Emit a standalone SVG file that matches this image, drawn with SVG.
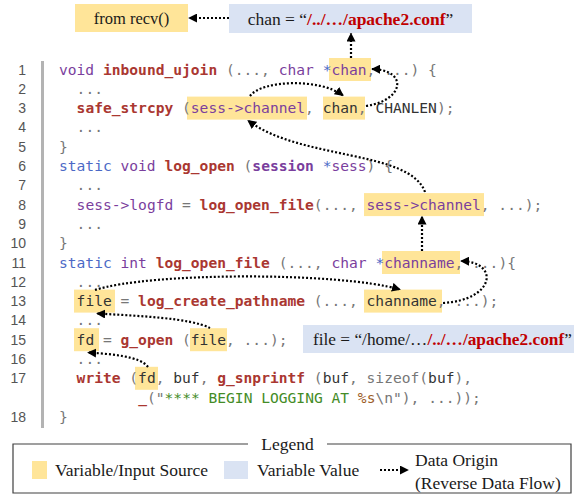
<svg xmlns="http://www.w3.org/2000/svg" width="574" height="496" viewBox="0 0 574 496">
<style>
.code{font-family:"DejaVu Sans Mono","Liberation Mono",monospace;font-size:14.6px;fill:#777777}
.k{fill:#7a3e9d}
.s{fill:#4b69c6}
.f{fill:#aa3731;font-weight:bold}
.v{fill:#7a3e9d}
.vb{fill:#7a3e9d;font-weight:bold}
.d{fill:#333333}
.g{fill:#448c27}
.o{fill:#9c5d27}
.ln{font-family:"Liberation Sans",Arial,sans-serif;font-size:14px;fill:#555555;text-anchor:end}
.hl{fill:#ffe599}
.val{fill:#dae3f3}
.serif{font-family:"Liberation Serif","Times New Roman",serif;fill:#1a1a1a}
.red{fill:#c00000;font-weight:bold}
.conn{fill:none;stroke:#000;stroke-width:2.2;stroke-dasharray:2 2;marker-end:url(#ah)}
</style>
<defs>
<marker id="ah" viewBox="0 0 10 10" refX="9" refY="5" markerUnits="userSpaceOnUse" markerWidth="9" markerHeight="9" orient="auto">
<path d="M0,0 L10,5 L0,10 z" fill="#000"/>
</marker>
</defs>
<rect width="574" height="496" fill="#ffffff"/>

<!-- highlights -->
<g id="highlights">
<rect id="hl-l1-chan" class="hl" x="329" y="58" width="42" height="23"/>
<rect id="hl-l3-sess" class="hl" x="187" y="96.6" width="120" height="23"/>
<rect id="hl-l3-chan" class="hl" x="323" y="96.6" width="42" height="23"/>
<rect id="hl-l8-sess" class="hl" x="364" y="193.1" width="120" height="23"/>
<rect id="hl-l11-channame" class="hl" x="382" y="251" width="78" height="23"/>
<rect id="hl-l13-file" class="hl" x="74" y="289.6" width="41" height="23"/>
<rect id="hl-l13-channame" class="hl" x="364" y="289.6" width="78" height="23"/>
<rect id="hl-l15-fd" class="hl" x="74" y="328.2" width="25" height="23"/>
<rect id="hl-l15-file" class="hl" x="190" y="328.2" width="37" height="23"/>
<rect id="hl-l17-fd" class="hl" x="135" y="366.8" width="23" height="23"/>
</g>

<!-- gutter -->
<g id="gutter">
<rect x="41" y="61" width="3" height="367" fill="#b3b3b3"/>
<text class="ln" x="26" y="74.5">1</text>
<text class="ln" x="26" y="93.8">2</text>
<text class="ln" x="26" y="113.1">3</text>
<text class="ln" x="26" y="132.4">4</text>
<text class="ln" x="26" y="151.7">5</text>
<text class="ln" x="26" y="171">6</text>
<text class="ln" x="26" y="190.3">7</text>
<text class="ln" x="26" y="209.6">8</text>
<text class="ln" x="26" y="228.9">9</text>
<text class="ln" x="26" y="248.2">10</text>
<text class="ln" x="26" y="267.5">11</text>
<text class="ln" x="26" y="286.8">12</text>
<text class="ln" x="26" y="306.1">13</text>
<text class="ln" x="26" y="325.4">14</text>
<text class="ln" x="26" y="344.7">15</text>
<text class="ln" x="26" y="364">16</text>
<text class="ln" x="26" y="383.3">17</text>
<text class="ln" x="26" y="422">18</text>
</g>

<!-- code -->
<g id="code" class="code" xml:space="preserve">
<text x="59" y="74.5"><tspan class="k">void</tspan> <tspan class="f">inbound_ujoin</tspan> (..., <tspan class="k">char</tspan> <tspan class="s">*</tspan><tspan class="v">chan</tspan>, ...) {</text>
<text x="76.6" y="93.8">...</text>
<text x="76.6" y="113.1"><tspan class="f">safe_strcpy</tspan> (<tspan class="v">sess-&gt;channel</tspan>, <tspan class="d">chan</tspan>, <tspan class="d">CHANLEN</tspan>);</text>
<text x="76.6" y="132.4">...</text>
<text x="59" y="151.7">}</text>
<text x="59" y="171"><tspan class="s">static</tspan> <tspan class="k">void</tspan> <tspan class="f">log_open</tspan> (<tspan class="vb">session</tspan> <tspan class="s">*</tspan><tspan class="v">sess</tspan>) {</text>
<text x="76.6" y="190.3">...</text>
<text x="76.6" y="209.6"><tspan class="v">sess-&gt;logfd</tspan> = <tspan class="f">log_open_file</tspan>(..., <tspan class="v">sess-&gt;channel</tspan>, ...);</text>
<text x="76.6" y="228.9">...</text>
<text x="59" y="248.2">}</text>
<text x="59" y="267.5"><tspan class="s">static</tspan> <tspan class="k">int</tspan> <tspan class="f">log_open_file</tspan> (..., <tspan class="k">char</tspan> <tspan class="s">*</tspan><tspan class="v">channame</tspan>, ...){</text>
<text x="76.6" y="286.8">...</text>
<text x="76.6" y="306.1"><tspan class="d">file</tspan> = <tspan class="f">log_create_pathname</tspan> (..., <tspan class="d">channame</tspan>, ...);</text>
<text x="76.6" y="325.4">...</text>
<text x="76.6" y="344.7"><tspan class="d">fd</tspan> = <tspan class="f">g_open</tspan> (<tspan class="d">file</tspan>, ...);</text>
<text x="76.6" y="364">...</text>
<text x="76.6" y="383.3"><tspan class="f">write</tspan> (<tspan class="d">fd</tspan>, <tspan class="d">buf</tspan>, <tspan class="f">g_snprintf</tspan> (<tspan class="d">buf</tspan>, sizeof(<tspan class="d">buf</tspan>),</text>
<text x="138.2" y="402.6"><tspan class="f">_</tspan>("<tspan class="g">**** BEGIN LOGGING AT </tspan><tspan class="o">%s</tspan>\n"), ...));</text>
<text x="59" y="422">}</text>
</g>

<!-- value / source nodes -->
<g id="node-from-recv">
<rect class="hl" x="75" y="4" width="113" height="28"/>
<text class="serif" x="131.5" y="24" font-size="16.5" text-anchor="middle">from recv()</text>
</g>
<g id="node-chan-value">
<rect class="val" x="229" y="4" width="243" height="29"/>
<text class="serif" x="350.5" y="24.5" font-size="17.5" text-anchor="middle">chan = “<tspan class="red">/../…/apache2.conf</tspan>”</text>
</g>
<g id="node-file-value">
<rect class="val" x="303" y="325" width="271" height="28"/>
<text class="serif" x="313" y="345" font-size="17.3">file = “/home/…<tspan class="red">/../…/apache2.conf</tspan>”</text>
</g>

<!-- connectors -->
<g id="connectors">
<path class="conn" d="M229 18 L189 18"/>
<path class="conn" d="M351 58 L351 33.5"/>
<path class="conn" d="M366 106 C405 100 408 70 372 69"/>
<path class="conn" d="M250 96 C262 80 320 78 343 95.5"/>
<path class="conn" d="M425 192 C410 150 300 160 248 120.5"/>
<path class="conn" d="M422 251 L422 216.5"/>
<path class="conn" d="M443 303 C495 300 500 262 461 261"/>
<path class="conn" d="M95 290 C150 272 340 272 400 289.5"/>
<path class="conn" d="M210 328 C190 318 140 316 97 313.5"/>
<path class="conn" d="M148 367 C140 356 110 354 88 352.5"/>
</g>

<!-- legend -->
<g id="legend">
<path d="M248 444 L13 444 L13 493 L571 493 L571 444 L327 444" fill="none" stroke="#404040" stroke-width="1.2"/>
<text class="serif" x="287.5" y="450" font-size="17.5" text-anchor="middle">Legend</text>
<rect class="hl" x="32" y="461" width="15" height="18"/>
<text class="serif" x="55" y="476" font-size="17.5">Variable/Input Source</text>
<rect class="val" x="224" y="461" width="24" height="18"/>
<text class="serif" x="257" y="476" font-size="17.5">Variable Value</text>
<path class="conn" d="M380 470 L408 470"/>
<text class="serif" x="415" y="466" font-size="17.5">Data Origin</text>
<text class="serif" x="415" y="489" font-size="17.5">(Reverse Data Flow)</text>
</g>
</svg>
